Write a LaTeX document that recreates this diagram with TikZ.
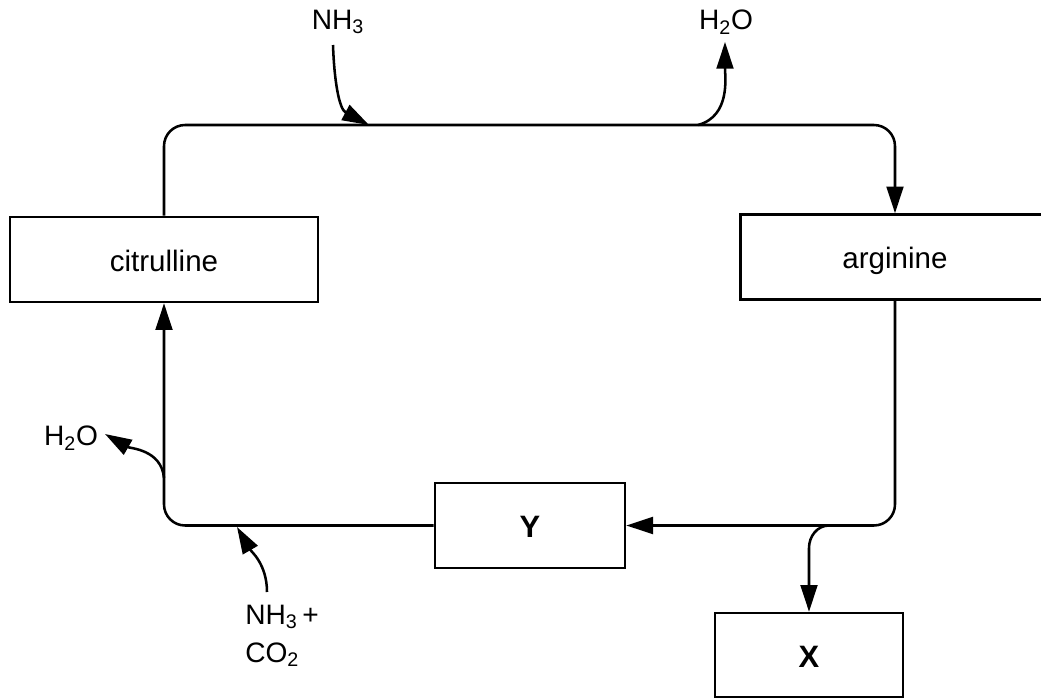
\documentclass[tikz,border=0pt]{standalone}
\usepackage{fontspec}
\setmainfont{Liberation Sans}
\usetikzlibrary{arrows.meta}
\begin{document}
\begin{tikzpicture}[x=0.025cm,y=-0.025cm,
  box/.style={draw,line width=1.8pt,inner sep=0pt,minimum height=2.125cm,text height=16.4pt,text depth=0pt,font=\fontsize{21}{25}\selectfont},
  bbox/.style={box,font=\fontsize{22}{26}\selectfont\bfseries},
  conn/.style={line width=1.8pt,-{Triangle[length=19pt,width=12pt]}},
  lbl/.style={font=\fontsize{20}{27}\selectfont,inner sep=0pt}]
\useasboundingbox (0,0) rectangle (1041,698);
% boxes
\node[box,minimum width=7.7cm] (cit) at (164,259.5) {citrulline};
\node[box,minimum width=7.725cm] (arg) at (895,257) {arginine};
\node[bbox,minimum width=4.75cm] (Y) at (530,525.5) {Y};
\node[bbox,minimum width=4.7cm,minimum height=2.1cm,text height=18pt] (X) at (809,655) {X};
% labels
\node[lbl] (nh3) at (338,22) {NH\textsubscript{3}};
\node[lbl] (h2ot) at (726,22) {H\textsubscript{2}O};
\node[lbl] (h2ol) at (71,438) {H\textsubscript{2}O};
\node[lbl,align=left] (nh3co2) at (282,636) {NH\textsubscript{3}\,+\\CO\textsubscript{2}};
% cycle
\coordinate (tl) at (164,125);
\coordinate (tr) at (895,125);
\draw[conn,rounded corners=15pt] (cit.north) -- (cit.north |- tl) -- (arg.north |- tr) -- (arg.north);
\draw[conn,rounded corners=15pt] (arg.south) -- (arg.south |- Y.east) -- (Y.east);
\draw[conn,rounded corners=15pt] (Y.west) -- (cit.south |- Y.west) -- (cit.south);
% branch to X
\coordinate (xs) at (829,525.5);
\draw[conn] (xs) to[out=180,in=90] (809,548) -- (X.north);
% side arrows
\coordinate (nh3s) at (333,45);
\coordinate (nh3e) at (369,125);
\draw[conn] (nh3s) to[out=-88,in=152] (nh3e);
\coordinate (h2ots) at (698,125);
\coordinate (h2ote) at (725,42);
\draw[conn] (h2ots) to[out=15,in=-90] (h2ote);
\coordinate (h2ols) at (164,478);
\coordinate (h2ole) at (105,434);
\draw[conn] (h2ols) to[out=95,in=-30] (h2ole);
\coordinate (ncs) at (267,592);
\coordinate (nce) at (237,527);
\draw[conn] (ncs) to[out=90,in=-60] (nce);
\end{tikzpicture}
\end{document}
